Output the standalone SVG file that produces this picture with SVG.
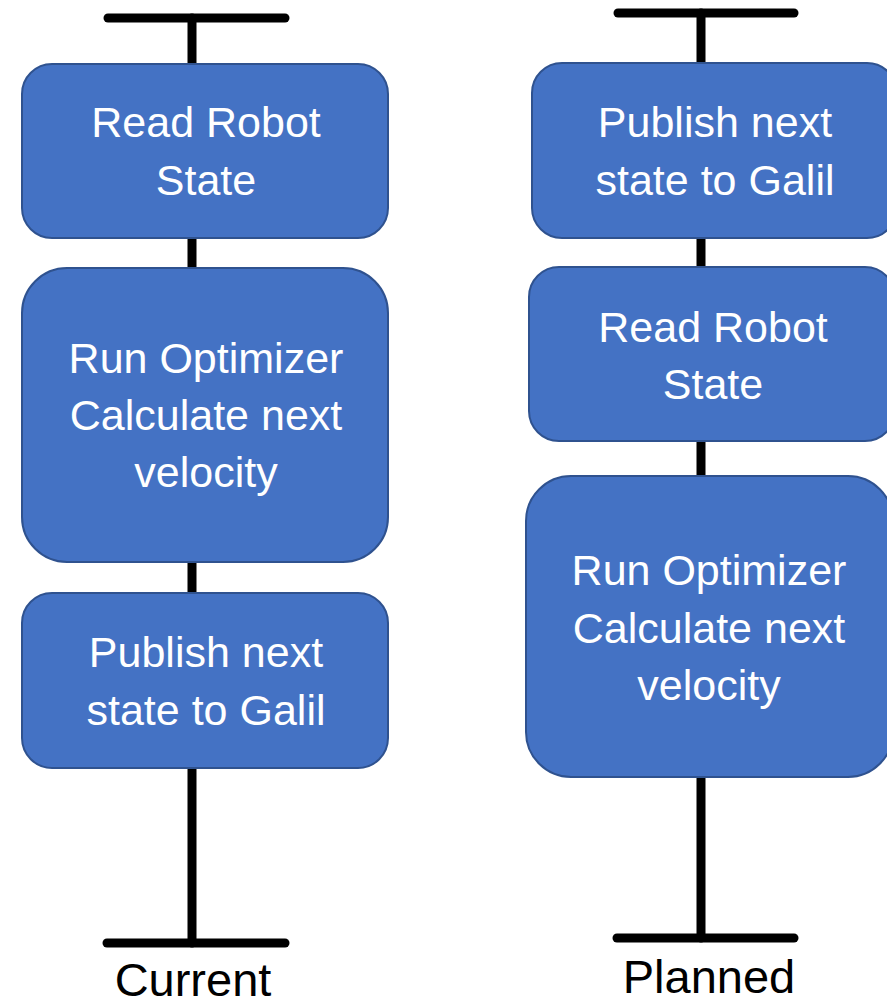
<svg xmlns="http://www.w3.org/2000/svg" width="887" height="1002" viewBox="0 0 887 1002">
<style>
.bar{stroke:#000;stroke-width:9;stroke-linecap:round;fill:none}
.node rect{fill:#4472C4;stroke:#2F528F;stroke-width:2}
.node text{fill:#fff;font-family:"Liberation Sans",Arial,sans-serif;font-size:43px;text-anchor:middle}
.cap{fill:#000;font-family:"Liberation Sans",Arial,sans-serif;font-size:47px;text-anchor:middle}
</style>
<rect width="887" height="1002" fill="#fff"/>
<g id="connectors">
<line class="bar" x1="108" y1="18" x2="285" y2="18"/>
<line class="bar" x1="192" y1="18" x2="192" y2="943" stroke-linecap="butt"/>
<line class="bar" x1="107" y1="943" x2="285" y2="943"/>
<line class="bar" x1="618" y1="13" x2="794" y2="13"/>
<line class="bar" x1="701" y1="13" x2="701" y2="938" stroke-linecap="butt"/>
<line class="bar" x1="617" y1="938" x2="794" y2="938"/>
</g>
<g id="current-read" class="node">
<rect x="22" y="64" width="366" height="174" rx="30"/>
<text x="206" y="137">Read Robot</text>
<text x="206" y="195">State</text>
</g>
<g id="current-optimize" class="node">
<rect x="22" y="268" width="366" height="294" rx="45"/>
<text x="206" y="373">Run Optimizer</text>
<text x="206" y="430">Calculate next</text>
<text x="206" y="487">velocity</text>
</g>
<g id="current-publish" class="node">
<rect x="22" y="593" width="366" height="175" rx="30"/>
<text x="206" y="667">Publish next</text>
<text x="206" y="725">state to Galil</text>
</g>
<g id="planned-publish" class="node">
<rect x="532" y="63" width="365" height="175" rx="30"/>
<text x="715" y="137">Publish next</text>
<text x="715" y="195">state to Galil</text>
</g>
<g id="planned-read" class="node">
<rect x="529" y="267" width="366" height="174" rx="30"/>
<text x="713" y="342">Read Robot</text>
<text x="713" y="399">State</text>
</g>
<g id="planned-optimize" class="node">
<rect x="526" y="476" width="367" height="301" rx="45"/>
<text x="709" y="585">Run Optimizer</text>
<text x="709" y="643">Calculate next</text>
<text x="709" y="700">velocity</text>
</g>
<text class="cap" x="193" y="996">Current</text>
<text class="cap" x="709" y="993">Planned</text>
</svg>
